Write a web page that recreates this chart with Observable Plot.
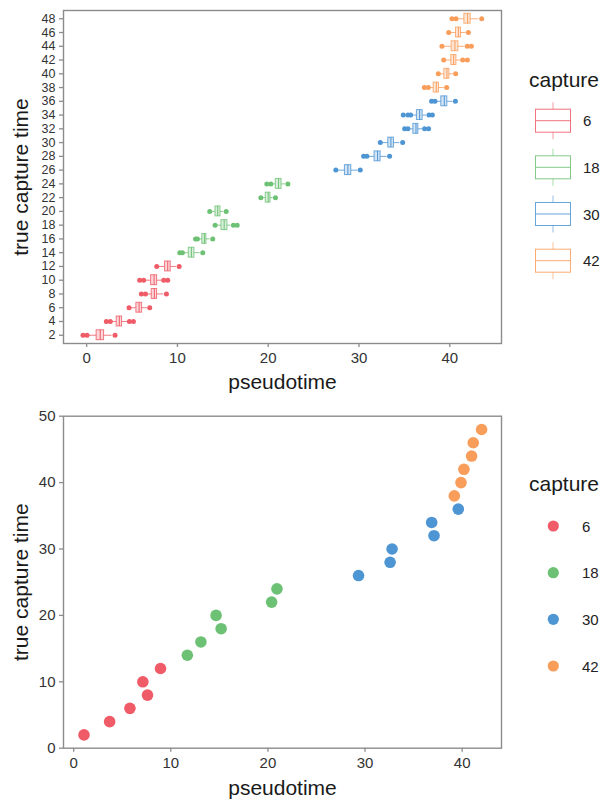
<!DOCTYPE html>
<html>
<head>
<meta charset="utf-8">
<script src="https://cdn.jsdelivr.net/npm/d3@7"></script>
<script src="https://cdn.jsdelivr.net/npm/@observablehq/plot@0.6"></script>
<style>
  body { margin: 0; background: #fff; font-family: "Liberation Sans", Arial, sans-serif; }
  .panel { position: relative; width: 605px; height: 400px; }
  .panel svg.legend { position: absolute; left: 0; top: 0; }
  [aria-label="x-axis tick"], [aria-label="y-axis tick"] { stroke: #8c8c8c; }
  [aria-label="x-axis tick label"], [aria-label="y-axis tick label"] { fill: #333; font-size: 15px; }
  #panelTop [aria-label="y-axis tick label"] { font-size: 12.5px; }
  [aria-label="x-axis label"], [aria-label="y-axis label"] { font-size: 21px; fill: #1a1a1a; }
</style>
</head>
<body>
<div id="panelTop" class="panel"></div>
<div id="panelBottom" class="panel"></div>
<script>
// ---- data ----
const captureTimes = [2,4,6,8,10,12,14,16,18,20,22,24,26,28,30,32,34,36,38,40,42,44,46,48];
const captureGroup = [6,6,6,6,6,6,18,18,18,18,18,18,30,30,30,30,30,30,42,42,42,42,42,42];
const groupLevels = ["6","18","30","42"];
const groupColors = ["#EF5B67","#6DC174","#4E95D3","#F99D5A"];

// boxplot statistics (pseudotime) per true capture time
const whiskerLow  = [0.3, 2.9, 4.9, 6.7, 6.5, 8.0, 10.8,12.4,14.4,13.8,19.4,20.5,27.7,31.1,32.6,35.6,35.9,38.6,37.85,39.0,39.6,39.4,40.1,40.9];
const q1          = [1.1, 3.31,5.48,7.17,7.1, 8.64,11.25,12.74,14.85,14.19,19.73,20.84,28.45,31.72,33.23,35.99,36.38,39.07,38.23,39.4,40.17,40.21,40.69,41.61];
const median      = [1.5, 3.6, 5.78,7.46,7.43,8.93,11.54,12.97,15.15,14.44,20.0,21.14,28.78,32.05,33.52,36.28,36.68,39.4,38.52,39.69,40.43,40.57,40.95,41.97];
const q3          = [1.92,3.9, 6.11,7.76,7.76,9.26,11.87,13.19,15.51,14.74,20.25,21.47,29.15,32.38,33.85,36.54,37.01,39.73,38.81,39.96,40.73,40.95,41.24,42.3];
const whiskerHigh = [2.8, 4.5, 6.7, 8.5, 8.3, 9.9, 12.5,13.6,15.9,15.1,20.55,21.9,29.9,33.1,34.5,37.0,37.45,40.35,39.4,40.4,41.2,41.7,41.8,43.2];
const outliers = [
  [-0.4, 0.04, 3.13],
  [2.17, 2.61, 4.71, 5.15],
  [4.67, 6.95],
  [6.03, 6.48, 8.79],
  [5.84, 6.28, 8.49, 8.93],
  [7.72, 10.19],
  [10.26, 10.55, 12.79],
  [12.0, 12.2, 13.89],
  [14.15, 16.17, 16.58],
  [13.56, 15.37],
  [19.19, 20.8],
  [19.85, 20.29, 22.17],
  [27.45, 30.14],
  [30.51, 30.87, 33.37],
  [32.35, 34.81],
  [35.03, 35.39, 37.23, 37.67],
  [34.88, 35.39, 35.69, 37.71, 38.08],
  [38.0, 38.37, 40.62],
  [37.2, 37.64, 39.66],
  [38.74, 40.65],
  [39.33, 41.42, 41.94],
  [39.14, 41.94, 42.38],
  [39.88, 42.05],
  [40.25, 40.69, 43.52]
];
// bottom panel: pseudotime per true capture time
const pointPseudotime = [1.06,3.7,5.79,7.6,7.12,8.94,11.7,13.1,15.18,14.66,20.38,20.93,29.33,32.58,32.78,37.1,36.86,39.6,39.19,39.88,40.18,40.97,41.14,42.0];

// ---- tables ----
const rows = captureTimes.map((t, i) => ({
  t, g: String(captureGroup[i]), wlo: whiskerLow[i], q1: q1[i], med: median[i], q3: q3[i], whi: whiskerHigh[i]
}));
const outRows = captureTimes.flatMap((t, i) => outliers[i].map(v => ({t, g: String(captureGroup[i]), v})));
const pts = captureTimes.map((t, i) => ({t, g: String(captureGroup[i]), x: pointPseudotime[i]}));

const font = "'Liberation Sans', Arial, sans-serif";
const colorScale = {domain: groupLevels, range: groupColors};

// ---- top panel ----
const plotTop = Plot.plot({
  width: 605, height: 400,
  marginLeft: 63, marginRight: 104, marginTop: 10, marginBottom: 57,
  style: {fontFamily: font, fontSize: "13px", background: "white", overflow: "visible"},
  x: {domain: [-2.55, 45.7]},
  y: {type: "band", domain: captureTimes.slice().reverse(), paddingInner: 0.28, paddingOuter: 0.24, round: false},
  color: colorScale,
  marks: [
    Plot.axisX({ticks: [0,10,20,30,40], tickSize: 4, tickPadding: 5, strokeWidth: 1.3,
      label: "pseudotime", labelAnchor: "center", labelArrow: "none", labelOffset: 45}),
    Plot.axisY({tickSize: 4, tickPadding: 4, strokeWidth: 1.3,
      label: "true capture time", labelAnchor: "center", labelArrow: "none", labelOffset: 50}),
    Plot.ruleY(rows, {y: "t", x1: "wlo", x2: "q1", stroke: "g", strokeOpacity: 0.8, strokeWidth: 1}),
    Plot.ruleY(rows, {y: "t", x1: "q3", x2: "whi", stroke: "g", strokeOpacity: 0.8, strokeWidth: 1}),
    Plot.barX(rows, {y: "t", x1: "q1", x2: "q3", fill: "g", fillOpacity: 0.25, stroke: "g", strokeOpacity: 0.8, strokeWidth: 1}),
    Plot.tickX(rows, {y: "t", x: "med", stroke: "g", strokeWidth: 1}),
    Plot.dot(outRows, {y: "t", x: "v", fill: "g", r: 2.5}),
    Plot.frame({stroke: "#8c8c8c", strokeWidth: 1.4})
  ]
});
document.getElementById("panelTop").appendChild(plotTop);

// ---- bottom panel ----
const plotBottom = Plot.plot({
  width: 605, height: 400,
  marginLeft: 63, marginRight: 104, marginTop: 15.7, marginBottom: 52.3,
  style: {fontFamily: font, fontSize: "13px", background: "white", overflow: "visible"},
  x: {domain: [-1.05, 44.05]},
  y: {domain: [0, 50]},
  color: colorScale,
  marks: [
    Plot.axisX({ticks: [0,10,20,30,40], tickSize: 4, tickPadding: 5, strokeWidth: 1.3,
      label: "pseudotime", labelAnchor: "center", labelArrow: "none", labelOffset: 47}),
    Plot.axisY({ticks: [0,10,20,30,40,50], tickSize: 4, tickPadding: 4, strokeWidth: 1.3,
      label: "true capture time", labelAnchor: "center", labelArrow: "none", labelOffset: 50}),
    Plot.dot(pts, {x: "x", y: "t", fill: "g", r: 5.8}),
    Plot.frame({stroke: "#8c8c8c", strokeWidth: 1.4})
  ]
});
document.getElementById("panelBottom").appendChild(plotBottom);

// ---- legends ----
function legendTop() {
  const svg = d3.select("#panelTop").append("svg").attr("class", "legend")
    .attr("width", 605).attr("height", 400).style("pointer-events", "none");
  svg.append("text").attr("x", 529).attr("y", 87).attr("font-family", font)
    .attr("font-size", 21).attr("fill", "#1a1a1a").text("capture");
  const ys = [120.7, 167.3, 214, 260.7];
  groupLevels.forEach((g, i) => {
    const c = ys[i], col = groupColors[i];
    const k = svg.append("g");
    k.append("line").attr("x1", 553).attr("x2", 553).attr("y1", c - 18.5).attr("y2", c + 18.5)
      .attr("stroke", col).attr("stroke-opacity", 0.6);
    k.append("rect").attr("x", 535.5).attr("y", c - 11.5).attr("width", 35).attr("height", 23)
      .attr("fill", "white").attr("stroke", col).attr("stroke-opacity", 0.85);
    k.append("line").attr("x1", 535.5).attr("x2", 570.5).attr("y1", c).attr("y2", c)
      .attr("stroke", col).attr("stroke-opacity", 0.85);
    svg.append("text").attr("x", 583).attr("y", c + 5.5).attr("font-family", font)
      .attr("font-size", 15).attr("fill", "#222").text(g);
  });
}
function legendBottom() {
  const svg = d3.select("#panelBottom").append("svg").attr("class", "legend")
    .attr("width", 605).attr("height", 400).style("pointer-events", "none");
  svg.append("text").attr("x", 529).attr("y", 91).attr("font-family", font)
    .attr("font-size", 21).attr("fill", "#1a1a1a").text("capture");
  const ys = [126, 172.7, 219.3, 266];
  groupLevels.forEach((g, i) => {
    svg.append("circle").attr("cx", 553.3).attr("cy", ys[i]).attr("r", 5.6).attr("fill", groupColors[i]);
    svg.append("text").attr("x", 582).attr("y", ys[i] + 5.5).attr("font-family", font)
      .attr("font-size", 15).attr("fill", "#222").text(g);
  });
}
legendTop();
legendBottom();
</script>
</body>
</html>
